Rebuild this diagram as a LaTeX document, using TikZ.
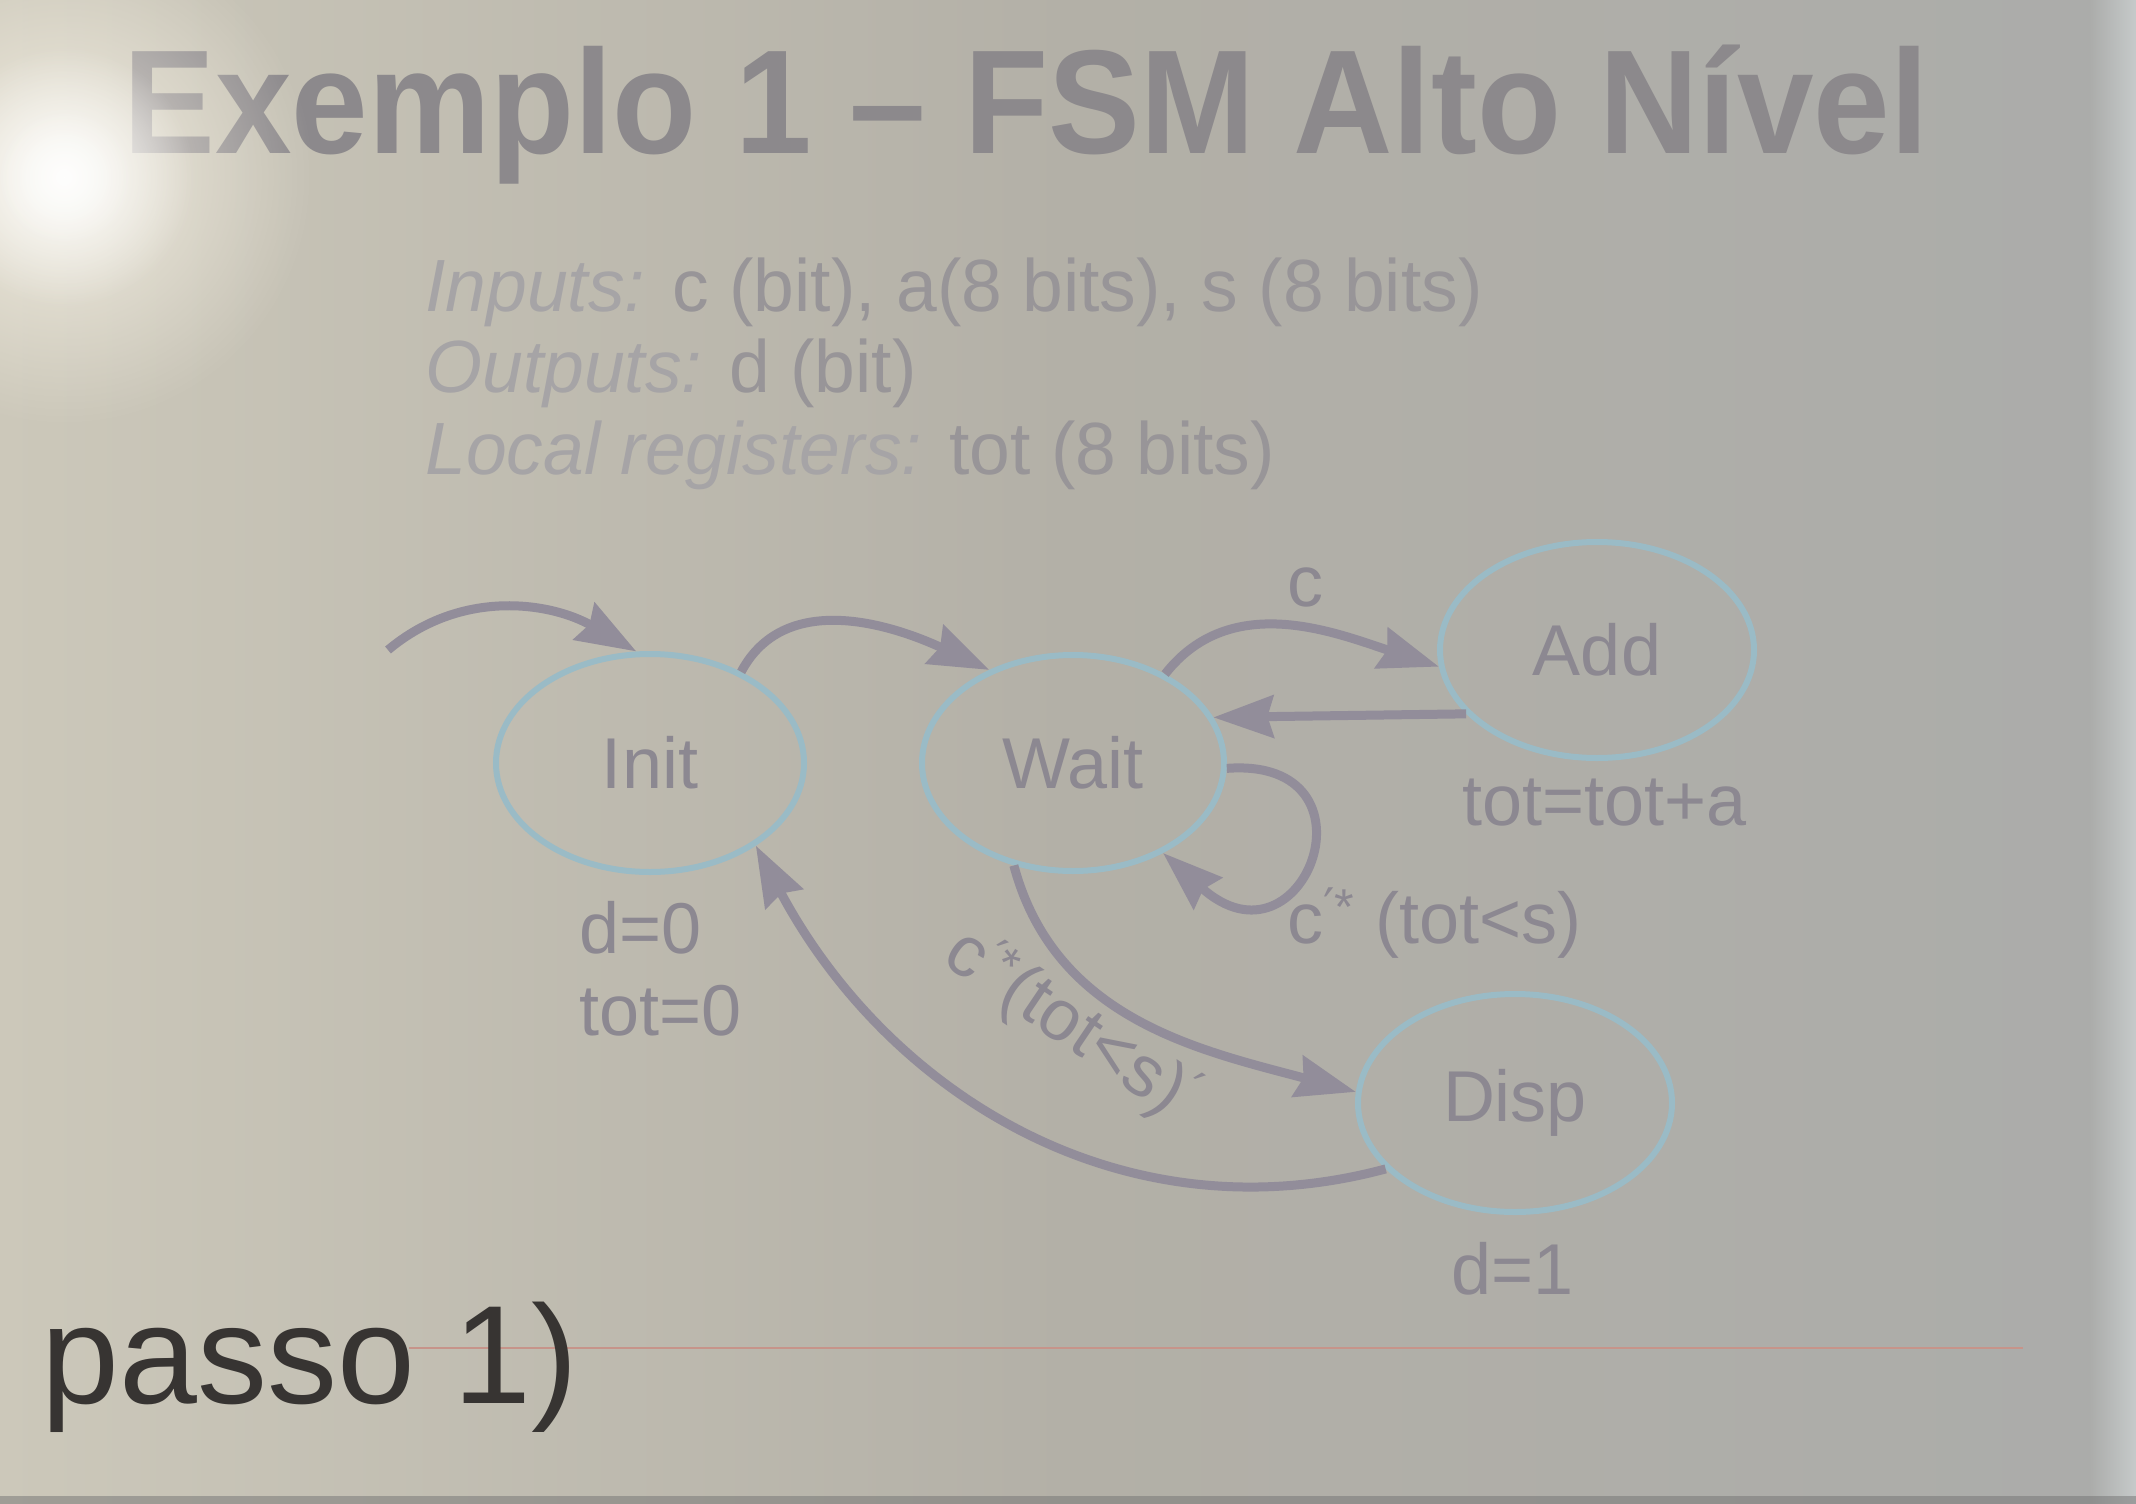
\documentclass[tikz,border=0pt]{standalone}
\usepackage{fontspec}
\setmainfont{Liberation Sans}
\newfontfamily\titlefont[FakeStretch=0.93]{Liberation Sans}
\newfontfamily\infofont[FakeStretch=0.99]{Liberation Sans}
\newfontfamily\symfont{DejaVu Sans}
\usetikzlibrary{arrows.meta,shapes.geometric,fadings}

\definecolor{bgL}{RGB}{204,200,186}
\definecolor{bgM}{RGB}{179,176,167}
\definecolor{bgR}{RGB}{171,172,170}
\definecolor{edgecol}{RGB}{198,202,202}
\definecolor{titlegray}{RGB}{140,137,140}
\definecolor{infotext}{RGB}{152,149,152}
\definecolor{infoital}{RGB}{166,164,166}
\definecolor{labcol}{RGB}{140,136,145}
\definecolor{ellcol}{RGB}{154,187,198}
\definecolor{arrcol}{RGB}{146,141,154}
\definecolor{passocol}{RGB}{55,52,50}
\definecolor{rulecol}{RGB}{198,148,138}
\definecolor{glarecol}{RGB}{255,250,238}

\tikzfading[name=glowfade, inner color=transparent!0, outer color=transparent!100]

\newcommand{\pr}{{\symfont ′}}

\begin{document}
\begin{tikzpicture}[x=0.5pt,y=0.5pt,
  state/.style={ellipse, draw=ellcol, line width=3pt, inner sep=0pt,
    text=labcol, font=\fontsize{36}{40}\selectfont},
  lab/.style={text=labcol, inner sep=0pt, font=\fontsize{36}{40}\selectfont},
  info/.style={text=infotext, inner sep=0pt, anchor=base west,
    font=\infofont\fontsize{37}{44}\selectfont},
  arr/.style={draw=arrcol, line width=4.5pt,
    -{Stealth[length=30pt,width=21pt,inset=3pt]}}]

\useasboundingbox (0,0) rectangle (2136,-1504);

% projected slide background
\shade[left color=bgL, right color=bgR, middle color=bgM] (0,0) rectangle (2136,-1504);
\shade[left color=bgR, right color=edgecol] (2090,0) rectangle (2136,-1504);
\fill[black!55, opacity=0.5] (0,-1496) rectangle (2136,-1504);

% heading
\node[anchor=base west, inner sep=0pt, text=titlegray,
  font=\titlefont\bfseries\fontsize{74}{80}\selectfont] (title) at (123,-154)
  {Exemplo 1 – FSM Alto Nível};

\node[info] (inputs) at (425,-311) {\textcolor{infoital}{\itshape Inputs:} c (bit), a(8 bits), s (8 bits)};
\node[info] (outputs) at (425,-392) {\textcolor{infoital}{\itshape Outputs:} d (bit)};
\node[info] (locals) at (425,-474) {\textcolor{infoital}{\itshape Local registers:} tot (8 bits)};

% states
\node[state, minimum width=154pt, minimum height=109pt] (Init) at (650,-763) {Init};
\node[state, minimum width=151pt, minimum height=108pt] (Wait) at (1073,-763) {Wait};
\node[state, minimum width=157pt, minimum height=108pt] (Add) at (1597,-650) {Add};
\node[state, minimum width=157pt, minimum height=109pt] (Disp) at (1515,-1103) {Disp};

% state actions
\node[lab, anchor=base west] (initd) at (579,-953) {d=0};
\node[lab, anchor=base west] (initt) at (579,-1035) {tot=0};
\node[lab, anchor=base west] (addact) at (1462,-825) {tot=tot+a};
\node[lab, anchor=base west] (dispact) at (1451,-1294) {d=1};

% transitions
\coordinate (start) at (388,-650);
\draw[arr] (start) to[out=40,in=150] (Init.97);
\draw[arr] (Init.45) to[out=62,in=155] (Wait.132);
\draw[arr] (Wait.44) to[out=52,in=162] (Add.186);
\draw[arr] (Add.206) -- (Wait.18);
\draw[arr] (Wait.-2) .. controls +(160,12) and +(141,-127) .. (Wait.-45);
\draw[arr] (Wait.-120) to[out=-75,in=165] (Disp.176);
\draw[arr] (Disp.207) to[out=195,in=-62] (Init.-38);

% transition conditions
\node[lab, anchor=base] (condc) at (1305,-606) {c};
\node[lab, anchor=base west] (condloop) at (1287,-943)
  {c\textsuperscript{\pr*} (tot<s)};
\node[lab, rotate=-34] (conddisp) at (1070,-1026)
  {c\textsuperscript{\pr*}(tot<s)\textsuperscript{\pr}};

% glare of the projector
\fill[glarecol, path fading=glowfade, opacity=0.75] (64,-177) circle (250);
\fill[white, path fading=glowfade, opacity=0.9] (64,-177) circle (130);
\fill[white, opacity=0.5, path fading=glowfade] (64,-177) circle (70);

% handwritten step note and rule
\draw[rulecol, line width=1.4pt] (409,-1348) -- (2023,-1348);
\node[anchor=base west, inner sep=0pt, text=passocol,
  font=\fontsize{70}{80}\selectfont] (passo) at (41,-1403) {passo 1)};

\end{tikzpicture}
\end{document}
